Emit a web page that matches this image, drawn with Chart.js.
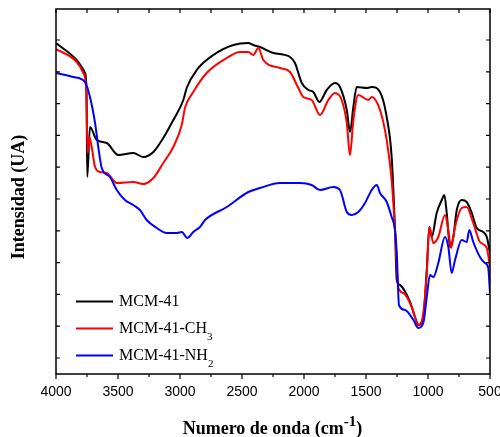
<!DOCTYPE html>
<html>
<head>
<meta charset="utf-8">
<script src="https://cdn.jsdelivr.net/npm/chart.js@4/dist/chart.umd.min.js"></script>
<style>
  body { margin: 0; background: #fff; }
  #wrap { width: 500px; height: 437px; }
</style>
</head>
<body>
<div id="wrap"><canvas id="ftirChart" width="500" height="437"></canvas></div>
<script>
// 数据: 波数 (cm-1) 与 强度 (任意单位)
const seriesNames = ['MCM-41', 'MCM-41-CH', 'MCM-41-NH'];
const seriesSubs = ['', '3', '2'];
const seriesColors = ['#000000', '#ff0000', '#0000ff'];

const mcmWn = [4000,3833,3793,3766,3754,3748,3726,3672,3591,3498,3377,3296,3215,3135,3054,2973,2946,2865,2731,2570,
  2449,2409,2355,2247,2113,2073,2018,1965,1925,1876,1817,1750,1710,1655,1629,1602,1575,1494,1454,1387,
  1333,1293,1266,1252,1226,1145,1105,1078,1038,1010,989,970,930,889,868,849,822,796,768,728,
  688,647,607,554,526,500];
const mcmInt = [331,314,307,301,285,197,247,234,231,219,221,217,222,236,254,274,286,304,319,329,
  331,329,327,321,317,311,291,284,282,272,284,291,287,264,242,267,287,286,287,282,
  257,217,144,94,89,72,57,49,57,104,147,137,161,174,179,161,127,137,164,174,
  172,161,146,142,137,121];

const ch3Wn = [4000,3833,3780,3758,3744,3731,3712,3685,3645,3591,3510,3377,3296,3215,3135,3054,2986,2960,2893,2785,
  2623,2516,2449,2409,2368,2328,2193,2113,2046,2005,1938,1871,1804,1750,1696,1655,1629,1602,1562,1481,
  1454,1387,1333,1293,1266,1239,1199,1131,1091,1070,1038,1010,989,957,917,863,836,814,782,728,
  688,635,581,526,500];
const ch3Int = [325,312,301,287,221,237,227,207,202,201,191,192,190,196,211,227,249,266,282,301,
  316,322,322,319,326,314,306,302,286,277,274,259,274,281,274,251,219,254,279,274,
  277,264,234,194,144,86,81,67,52,49,61,101,147,131,137,159,144,126,147,166,
  167,151,132,126,107];

const nh2Wn = [4000,3860,3766,3726,3685,3659,3631,3565,3510,3444,3377,3323,3269,3188,3107,3027,2986,2941,2893,2839,
  2798,2623,2449,2355,2193,2032,1938,1871,1764,1710,1655,1615,1562,1508,1454,1413,1387,1333,1293,1266,
  1252,1234,1185,1118,1078,1038,1010,984,957,917,863,836,809,782,728,688,667,635,581,541,
  514,500];
const nh2Int = [301,297,292,277,251,227,206,197,184,174,169,164,154,146,141,141,142,136,142,147,
  154,167,182,186,191,191,189,184,187,184,162,159,162,171,184,189,181,172,157,144,
  121,69,64,54,46,51,77,99,97,111,137,127,101,114,134,132,144,132,117,111,
  106,81];

const xTickStep = 250;

function toPoints(wn, vals) {
    return wn.map((w, i) => ({ x: w, y: vals[i] }));
}

// 边框、刻度、图例和坐标轴标题
const framePlugin = {
    id: 'frame',
    afterDatasetsDraw(chart) {
        const { ctx, chartArea: a, scales } = chart;
        const xs = scales.x;
        ctx.save();
        ctx.strokeStyle = '#000';
        ctx.lineWidth = 1.5;
        ctx.strokeRect(a.left, a.top, a.right - a.left, a.bottom - a.top);

        ctx.lineWidth = 1.2;
        ctx.beginPath();
        for (let w = xs.min; w <= xs.max; w += xTickStep) {
            const px = xs.getPixelForValue(w);
            ctx.moveTo(px, a.top);
            ctx.lineTo(px, a.top + 4);
            ctx.moveTo(px, a.bottom);
            ctx.lineTo(px, a.bottom + (w % 500 === 0 ? 5 : 3));
        }
        for (let py = a.bottom - 16; py > a.top + 5; py -= 31.8) {
            ctx.moveTo(a.left, py);
            ctx.lineTo(a.left + 4, py);
            ctx.moveTo(a.right, py);
            ctx.lineTo(a.right - 4, py);
        }
        ctx.stroke();

        // 图例
        chart.data.datasets.forEach((ds, i) => {
            const y = 301.5 + i * 27;
            ctx.strokeStyle = ds.borderColor;
            ctx.lineWidth = 2;
            ctx.beginPath();
            ctx.moveTo(76, y);
            ctx.lineTo(113, y);
            ctx.stroke();
            ctx.fillStyle = '#000';
            ctx.font = '16px "Liberation Serif"';
            ctx.textBaseline = 'middle';
            ctx.textAlign = 'left';
            ctx.fillText(seriesNames[i], 119, y);
            if (seriesSubs[i]) {
                const w = ctx.measureText(seriesNames[i]).width;
                ctx.font = '11px "Liberation Serif"';
                ctx.fillText(seriesSubs[i], 119 + w, y + 9);
            }
        });

        // x 轴标题
        ctx.fillStyle = '#000';
        ctx.textBaseline = 'alphabetic';
        ctx.textAlign = 'left';
        const big = 'bold 18px "Liberation Serif"';
        const sup = 'bold 15px "Liberation Serif"';
        const t1 = 'Numero de onda (cm', t2 = '-1', t3 = ')';
        ctx.font = big;
        const w1 = ctx.measureText(t1).width, w3 = ctx.measureText(t3).width;
        ctx.font = sup;
        const w2 = ctx.measureText(t2).width;
        let x0 = 272.5 - (w1 + w2 + w3) / 2;
        ctx.font = big;
        ctx.fillText(t1, x0, 434);
        ctx.font = sup;
        ctx.fillText(t2, x0 + w1, 426);
        ctx.font = big;
        ctx.fillText(t3, x0 + w1 + w2, 434);

        // y 轴标题
        ctx.translate(19, 197);
        ctx.rotate(-Math.PI / 2);
        ctx.textAlign = 'center';
        ctx.textBaseline = 'middle';
        ctx.font = big;
        ctx.fillText('Intensidad (UA)', 0, 0);
        ctx.restore();
    }
};

const ctx = document.getElementById('ftirChart').getContext('2d');
new Chart(ctx, {
    type: 'line',
    data: {
        datasets: [
            { data: toPoints(mcmWn, mcmInt), borderColor: seriesColors[0], order: 2 },
            { data: toPoints(ch3Wn, ch3Int), borderColor: seriesColors[1], order: 1 },
            { data: toPoints(nh2Wn, nh2Int), borderColor: seriesColors[2], order: 0 }
        ]
    },
    options: {
        responsive: false,
        animation: false,
        parsing: false,
        elements: {
            line: { borderWidth: 2, cubicInterpolationMode: 'monotone', fill: false },
            point: { radius: 0 }
        },
        layout: { autoPadding: false, padding: { top: 9, right: 10, left: 0, bottom: 0 } },
        plugins: { legend: { display: false }, tooltip: { enabled: false } },
        scales: {
            x: {
                type: 'linear',
                reverse: true,
                min: 500,
                max: 4000,
                grid: { display: false, drawTicks: false },
                border: { display: false },
                afterFit: (s) => { s.height = 63; s.paddingLeft = 0; s.paddingRight = 0; },
                ticks: {
                    stepSize: xTickStep,
                    autoSkip: false,
                    maxRotation: 0,
                    padding: 10,
                    color: '#000',
                    font: { family: '"Liberation Sans"', size: 14 },
                    callback: (v) => (v % 500 === 0 ? String(v) : '')
                }
            },
            y: {
                min: 0,
                max: 365,
                grid: { display: false, drawTicks: false },
                border: { display: false },
                ticks: { display: false },
                afterFit: (s) => { s.width = 56; }
            }
        }
    },
    plugins: [framePlugin]
});
</script>
</body>
</html>
